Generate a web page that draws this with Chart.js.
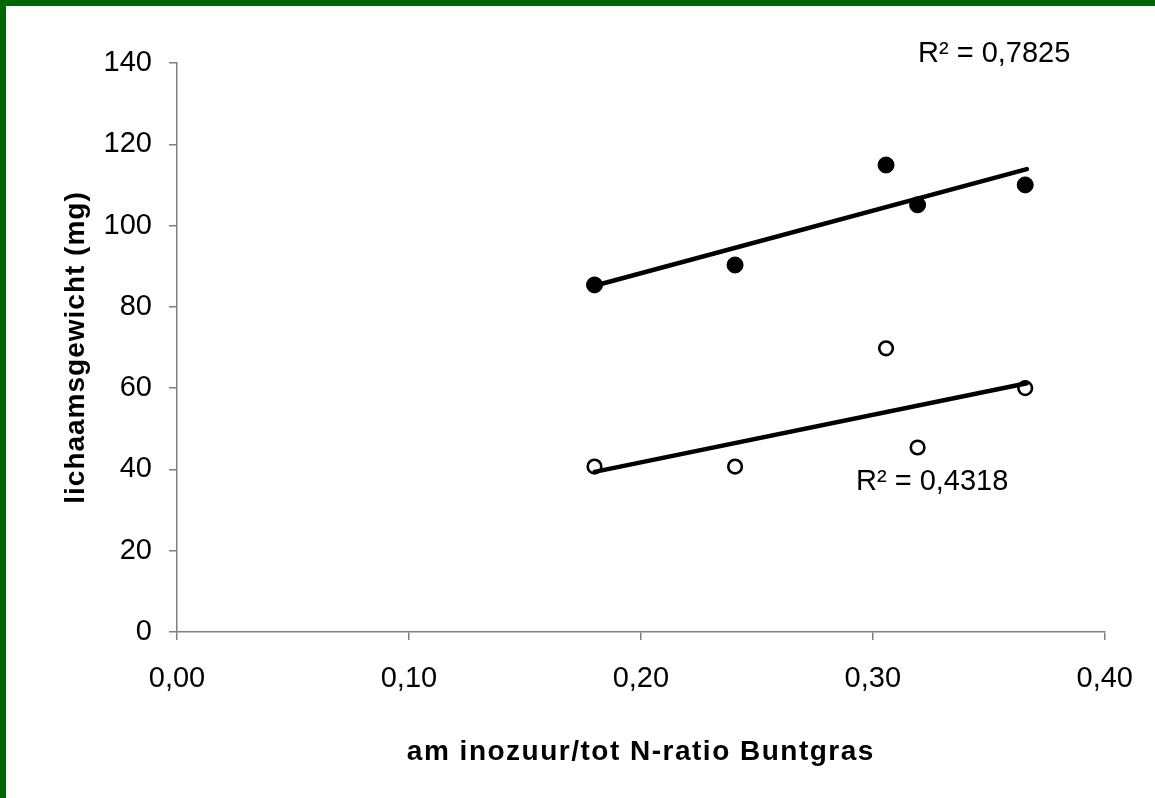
<!DOCTYPE html>
<html>
<head>
<meta charset="utf-8">
<script src="https://cdn.jsdelivr.net/npm/chart.js@4.4.1/dist/chart.umd.min.js"></script>
<style>
  html, body { margin: 0; padding: 0; background: #ffffff; }
  #wrap { position: relative; width: 1155px; height: 798px; }
</style>
</head>
<body>
<div id="wrap"><canvas id="c" width="1155" height="798"></canvas></div>
<script>
// ---- data ----
const ratioX       = [0.18, 0.2406, 0.3057, 0.3193, 0.3657];   // aminozuur/tot N-ratio
const weightFilled = [85.4, 90.3, 114.9, 105.1, 110.0];        // filled circles
const weightOpen   = [40.7, 40.7, 69.8, 45.4, 60.0];           // open circles
const trendFilledX = [0.18, 0.3664];
const trendFilledY = [85.2, 113.9];
const trendOpenX   = [0.18, 0.3664];
const trendOpenY   = [39.4, 61.2];
const r2Labels     = ['R² = 0,7825', 'R² = 0,4318'];
const xTitle = 'am inozuur/tot N-ratio Buntgras';
const yTitle = 'lichaamsgewicht (mg)';

const pts = (xs, ys) => xs.map((x, i) => ({ x: x, y: ys[i] }));

const FONT = "'Liberation Sans', Arial, sans-serif";
const AXIS = '#808080';

const bgPlugin = {
  id: 'bg',
  beforeDraw(chart) {
    const ctx = chart.ctx;
    ctx.save();
    ctx.fillStyle = '#ffffff';
    ctx.fillRect(0, 0, chart.width, chart.height);
    ctx.restore();
  },
  afterLayout(chart) {
    // slightly wider letter spacing for the axis titles only
    [['x', '1.5px'], ['y', '1px']].forEach(([id, sp]) => {
      const s = chart.scales[id];
      if (s && !s._spaced) {
        const orig = s.drawTitle.bind(s);
        s.drawTitle = function () {
          const ctx = this.ctx;
          const prev = ctx.letterSpacing;
          ctx.letterSpacing = sp;
          orig();
          ctx.letterSpacing = prev || '0px';
        };
        s._spaced = true;
      }
    });
  },
  afterDraw(chart) {
    const ctx = chart.ctx;
    ctx.save();
    ctx.fillStyle = '#006600';
    ctx.fillRect(0, 0, chart.width, 6);
    ctx.fillRect(0, 0, 6, chart.height);
    // R² labels
    ctx.fillStyle = '#000000';
    ctx.font = '29px ' + FONT;
    ctx.textBaseline = 'alphabetic';
    ctx.textAlign = 'left';
    ctx.fillText(r2Labels[0], 918, 62);
    ctx.fillText(r2Labels[1], 856, 490);
    ctx.restore();
  }
};

new Chart(document.getElementById('c'), {
  type: 'scatter',
  data: {
    datasets: [
      {
        type: 'line', data: pts(trendFilledX, trendFilledY), order: 0,
        borderColor: '#000', borderWidth: 4.5, pointRadius: 0, borderCapStyle: 'round', fill: false
      },
      {
        type: 'line', data: pts(trendOpenX, trendOpenY), order: 0,
        borderColor: '#000', borderWidth: 4.5, pointRadius: 0, borderCapStyle: 'round', fill: false
      },
      {
        data: pts(ratioX, weightFilled), order: 1,
        pointRadius: 8, pointBackgroundColor: '#000', pointBorderColor: '#000', pointBorderWidth: 1
      },
      {
        data: pts(ratioX, weightOpen), order: 1,
        pointRadius: 6.8, pointBackgroundColor: '#fff', pointBorderColor: '#000', pointBorderWidth: 2.6
      }
    ]
  },
  options: {
    responsive: false,
    animation: false,
    events: [],
    layout: { padding: { left: 0, top: 63, right: 45, bottom: 0 } },
    plugins: { legend: { display: false }, tooltip: { enabled: false } },
    scales: {
      x: {
        type: 'linear', min: 0, max: 0.4,
        afterFit(s) { s.height = 166; },
        ticks: {
          stepSize: 0.1, padding: 22, color: '#000',
          font: { family: FONT, size: 29 },
          callback: v => v.toFixed(2).replace('.', ',')
        },
        grid: { drawOnChartArea: false, drawTicks: true, tickLength: 8, color: AXIS, lineWidth: 1.5 },
        border: { display: true, color: AXIS, width: 1.5 },
        title: {
          display: true, text: xTitle, color: '#000',
          font: { family: FONT, size: 28, weight: 'bold', lineHeight: 1 },
          padding: { top: 0, bottom: 32 }
        }
      },
      y: {
        type: 'linear', min: 0, max: 140,
        afterFit(s) { s.width = 177; },
        ticks: {
          stepSize: 20, padding: 17, color: '#000',
          font: { family: FONT, size: 29 }
        },
        grid: { drawOnChartArea: false, drawTicks: true, tickLength: 8, color: AXIS, lineWidth: 1.5 },
        border: { display: true, color: AXIS, width: 1.5 },
        title: {
          display: true, text: yTitle, color: '#000',
          font: { family: FONT, size: 28, weight: 'bold', lineHeight: 1 },
          padding: { top: 62, bottom: 0 }
        }
      }
    }
  },
  plugins: [bgPlugin]
});
</script>
</body>
</html>
